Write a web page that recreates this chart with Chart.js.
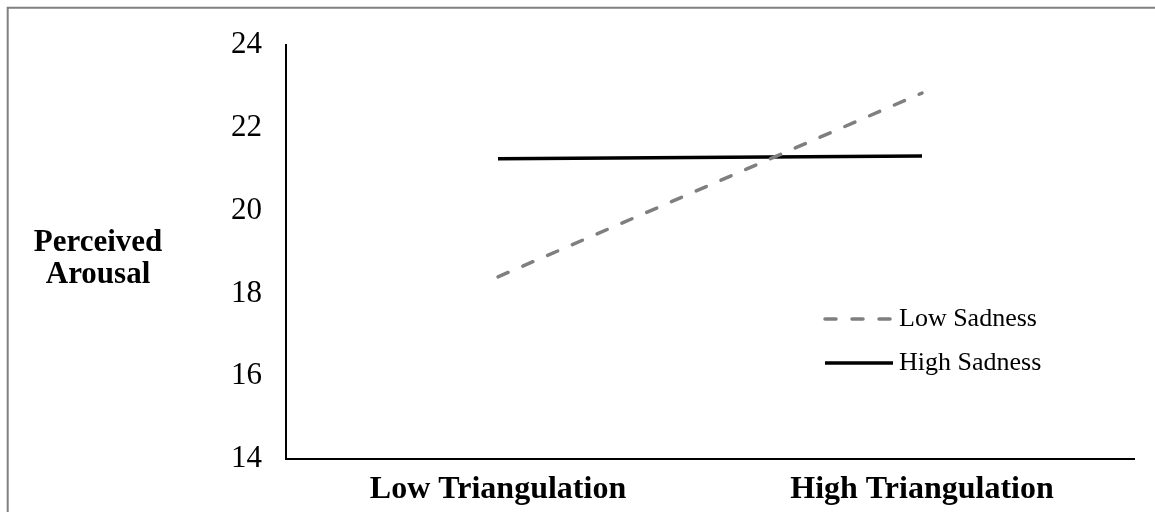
<!DOCTYPE html>
<html>
<head>
<meta charset="utf-8">
<script src="https://cdn.jsdelivr.net/npm/chart.js@4"></script>
<style>
  html, body { margin: 0; padding: 0; background: #fff; }
  #wrap { width: 1155px; height: 512px; position: relative; }
</style>
</head>
<body>
<div id="wrap"><canvas id="arousalChart" width="1155" height="512"></canvas></div>
<script>
const categorias = ['Low Triangulation', 'High Triangulation'];
const lowSadness = [18.40, 22.84];
const highSadness = [21.25, 21.32];
const yTicks = [14, 16, 18, 20, 22, 24];

const serif = '"Liberation Serif", "Times New Roman", serif';

// moldura cinza (so topo e esquerda aparecem na imagem)
const moldura = {
  id: 'moldura',
  beforeDraw: function (chart) {
    const { ctx } = chart;
    ctx.save();
    ctx.strokeStyle = '#808080';
    ctx.lineWidth = 2;
    ctx.beginPath();
    ctx.moveTo(7.7, 512);
    ctx.lineTo(7.7, 7.7);
    ctx.lineTo(1155, 7.7);
    ctx.stroke();
    ctx.restore();
  }
};

const tituloY = {
  id: 'titulo-y',
  afterDraw: function (chart) {
    const { ctx } = chart;
    ctx.save();
    ctx.font = 'bold 31px ' + serif;
    ctx.fillStyle = '#000';
    ctx.textAlign = 'center';
    ctx.textBaseline = 'alphabetic';
    ctx.fillText('Perceived', 98, 251);
    ctx.fillText('Arousal', 98, 283);
    ctx.restore();
  }
};

const legenda = {
  id: 'legenda',
  afterDraw: function (chart) {
    const { ctx } = chart;
    ctx.save();
    chart.data.datasets.forEach(function (ds, i) {
      const y = 319 + i * 44;
      ctx.strokeStyle = ds.borderColor;
      ctx.lineWidth = ds.borderWidth;
      ctx.lineCap = ds.borderDash.length ? 'round' : 'butt';
      ctx.setLineDash(ds.borderDash);
      ctx.beginPath();
      ctx.moveTo(825, y);
      ctx.lineTo(893, y);
      ctx.stroke();
      ctx.setLineDash([]);
      ctx.font = '26px ' + serif;
      ctx.fillStyle = '#000';
      ctx.textAlign = 'left';
      ctx.textBaseline = 'middle';
      ctx.fillText(ds.label, 899, y);
    });
    ctx.restore();
  }
};

const ctx = document.getElementById('arousalChart').getContext('2d');

new Chart(ctx, {
  type: 'line',
  data: {
    labels: categorias,
    datasets: [{
      label: 'Low Sadness',
      data: lowSadness,
      borderColor: '#7f7f7f',
      borderWidth: 3.5,
      borderDash: [11, 16],
      borderCapStyle: 'round',
      pointRadius: 0,
      tension: 0,
    }, {
      label: 'High Sadness',
      data: highSadness,
      borderColor: '#000',
      borderWidth: 3.5,
      borderDash: [],
      pointRadius: 0,
      tension: 0,
    }]
  },
  options: {
    responsive: false,
    animation: false,
    layout: {
      padding: { top: 45, right: 21, left: 0, bottom: 0 }
    },
    plugins: {
      legend: { display: false },
      tooltip: { enabled: false }
    },
    scales: {
      x: {
        offset: true,
        grid: { display: false, drawTicks: false },
        border: { display: true, color: '#000', width: 2 },
        ticks: {
          color: '#000',
          padding: 12,
          font: { family: serif, size: 32, weight: 'bold' }
        },
        afterFit: function (s) { s.height = 53; }
      },
      y: {
        min: 14,
        max: 24,
        afterBuildTicks: function (s) { s.ticks = yTicks.map(v => ({ value: v })); },
        grid: { display: false, drawTicks: false },
        border: { display: true, color: '#000', width: 2 },
        ticks: {
          color: '#000',
          padding: 24,
          font: { family: serif, size: 31 }
        },
        afterFit: function (s) { s.width = 286; }
      }
    }
  },
  plugins: [moldura, tituloY, legenda]
});
</script>
</body>
</html>
